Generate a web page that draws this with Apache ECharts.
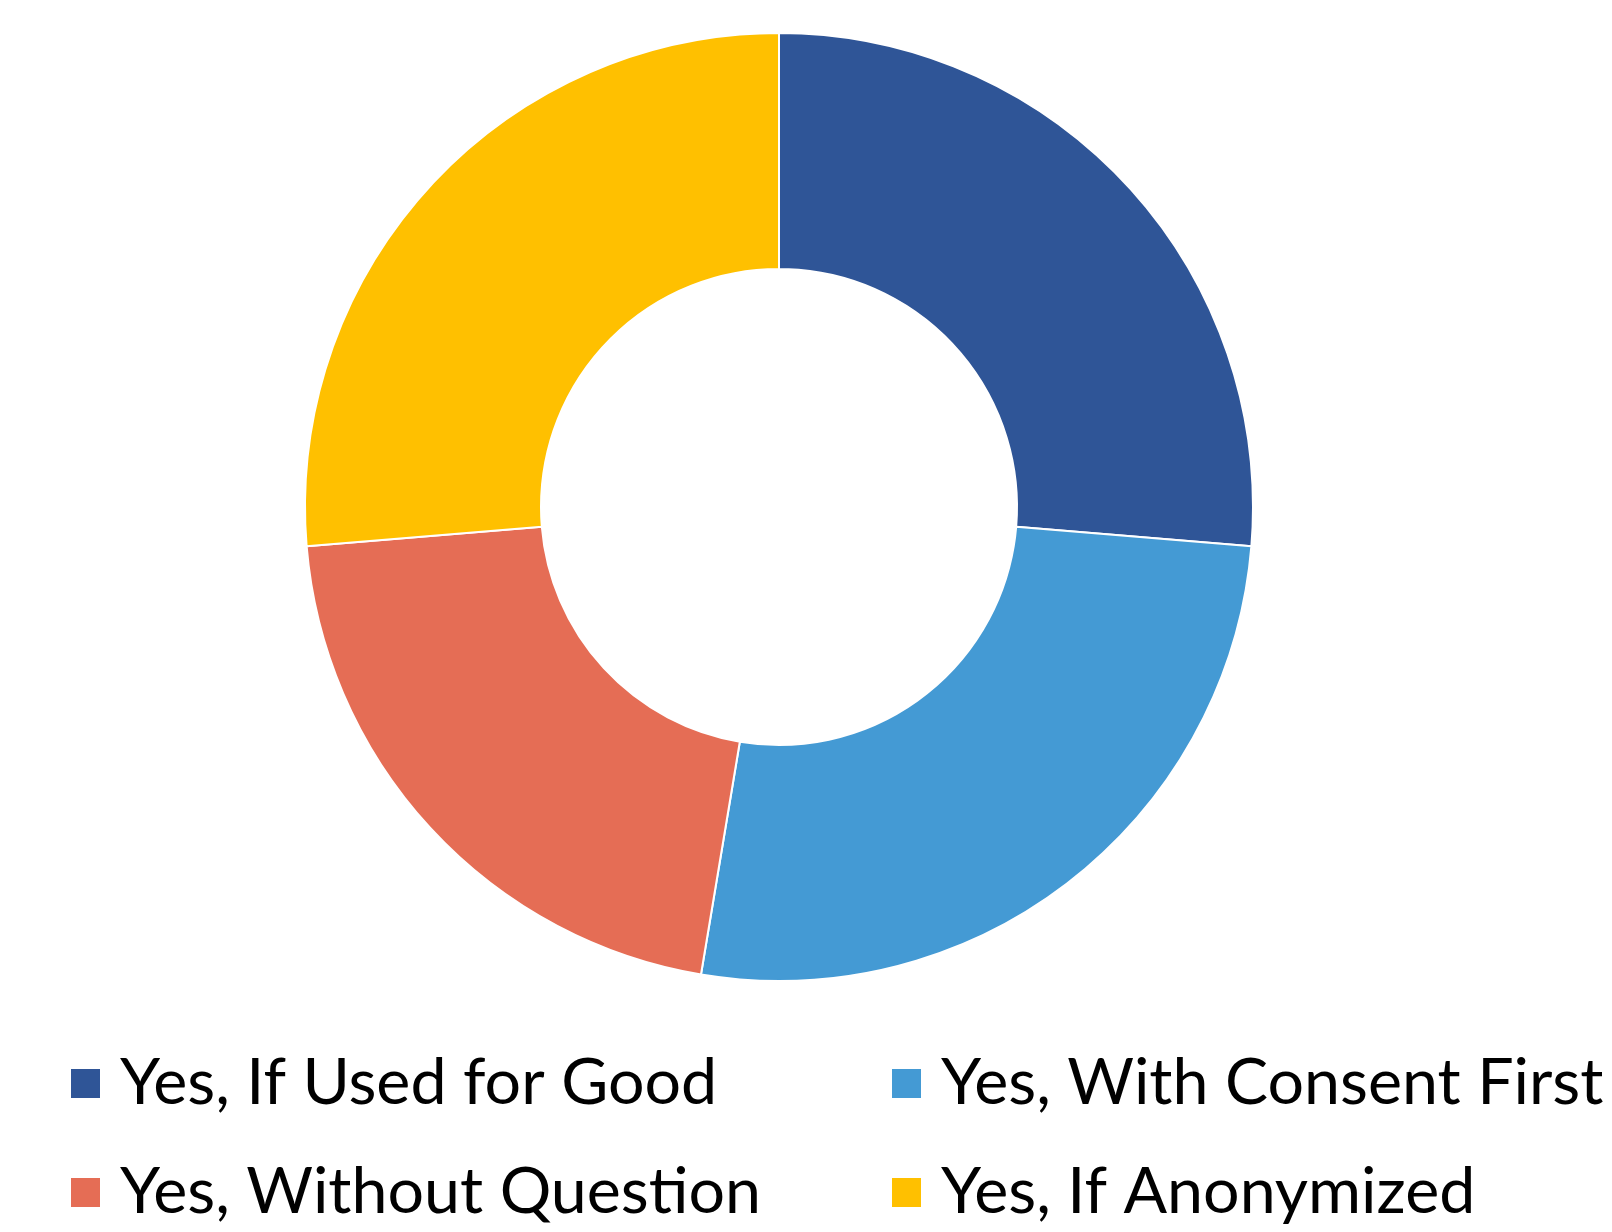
<!DOCTYPE html>
<html><head><meta charset="utf-8">
<script src="https://cdn.jsdelivr.net/npm/echarts@6/dist/echarts.min.js"></script>
<style>html,body{margin:0;padding:0;background:#fff}#c{width:1612px;height:1232px}</style>
</head><body><div id="c"></div>
<script>
var categories = ["Yes, If Used for Good", "Yes, With Consent First", "Yes, Without Question", "Yes, If Anonymized"];
var values = [25, 25, 20, 25];
var colors = ["#2F5597", "#449AD4", "#E56D55", "#FFC000"];

var chart = echarts.init(document.getElementById('c'));
var legendText = {fontFamily: 'Lato', fontSize: 64.5, color: '#000', lineHeight: 62, padding: [0, 0, 0, 14]};
chart.setOption({
  animation: false,
  legend: [
    {orient: 'vertical', left: 69, top: 1051, padding: 0, itemWidth: 31, itemHeight: 31, itemGap: 44,
     icon: 'rect', textStyle: legendText, data: [categories[0], categories[2]]},
    {orient: 'vertical', left: 890, top: 1051, padding: 0, itemWidth: 31, itemHeight: 31, itemGap: 44,
     icon: 'rect', textStyle: legendText, data: [categories[1], categories[3]]}
  ],
  series: [{
    type: 'pie',
    center: [779, 507],
    radius: [238, 474],
    startAngle: 90,
    clockwise: true,
    label: {show: false},
    labelLine: {show: false},
    itemStyle: {borderColor: '#fff', borderWidth: 2},
    data: categories.map(function (c, i) { return {name: c, value: values[i], itemStyle: {color: colors[i]}}; })
  }]
});
</script></body></html>
